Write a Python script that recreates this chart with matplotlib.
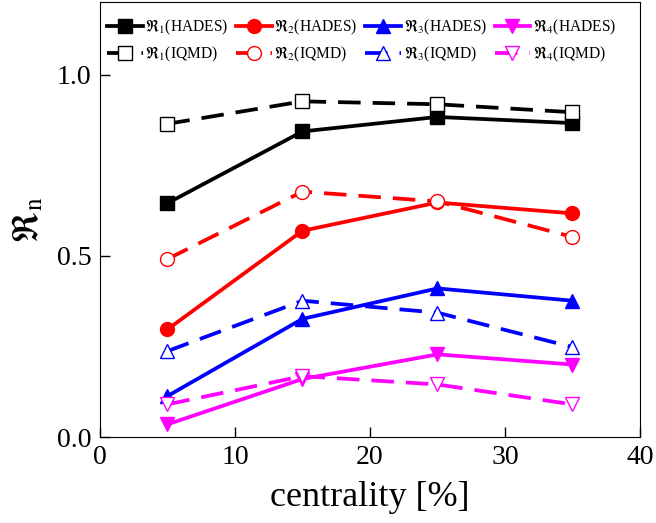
import matplotlib
matplotlib.use("Agg")
import matplotlib.pyplot as plt

plt.rcParams['font.family'] = ['Liberation Serif', 'DejaVu Serif']
plt.rcParams['mathtext.fontset'] = 'stix'

centrality = [5, 15, 25, 35]

r1_hades = [0.645, 0.843, 0.883, 0.866]
r2_hades = [0.297, 0.569, 0.647, 0.617]
r3_hades = [0.113, 0.326, 0.410, 0.376]
r4_hades = [0.035, 0.160, 0.228, 0.200]

r1_iqmd = [0.864, 0.926, 0.918, 0.896]
r2_iqmd = [0.491, 0.677, 0.650, 0.552]
r3_iqmd = [0.237, 0.376, 0.343, 0.248]
r4_iqmd = [0.090, 0.168, 0.145, 0.090]

colors = ['black', 'red', 'blue', 'magenta']
markers = ['s', 'o', '^', 'v']
hades = [r1_hades, r2_hades, r3_hades, r4_hades]
iqmd = [r1_iqmd, r2_iqmd, r3_iqmd, r4_iqmd]

fig = plt.figure(figsize=(6.56, 5.23), dpi=100)
ax = fig.add_axes([0.1524, 0.1644, 0.8232, 0.8317])

handles = []
for i in range(4):
    h, = ax.plot(centrality, hades[i], color=colors[i], marker=markers[i], lw=2.7,
                 ms=10, markerfacecolor=colors[i], markeredgecolor=colors[i],
                 label=r'$\Re_{%d}$(HADES)' % (i + 1))
    g, = ax.plot(centrality, iqmd[i], color=colors[i], marker=markers[i], lw=2.7,
                 ms=10, markerfacecolor='white', markeredgecolor=colors[i], mew=1,
                 dashes=(6, 3.2), label=r'$\Re_{%d}$(IQMD)' % (i + 1))
    # legend fills column by column: hades on row 1, iqmd on row 2
    handles += [h, g]

ax.set_xlim(0, 40)
ax.set_ylim(0, 1.2)
ax.set_xticks([0, 10, 20, 30, 40])
ax.set_yticks([0.0, 0.5, 1.0])
ax.set_yticklabels(['0.0', '0.5', '1.0'])
ax.tick_params(direction='in', length=7, width=1, labelsize=20, pad=6)
ax.set_xlabel('centrality [%]', fontsize=26, labelpad=8)
ax.set_ylabel(r'$\Re_{\rm n}$', fontsize=26, labelpad=8)

ax.legend(handles=handles, ncol=4, loc='upper left', bbox_to_anchor=(-0.016, 1.0),
          frameon=False, fontsize=11.2, handlelength=2.3, handletextpad=0.15,
          columnspacing=0.5, labelspacing=0.5, borderaxespad=0.62)

fig.savefig('out.png', dpi=100)
